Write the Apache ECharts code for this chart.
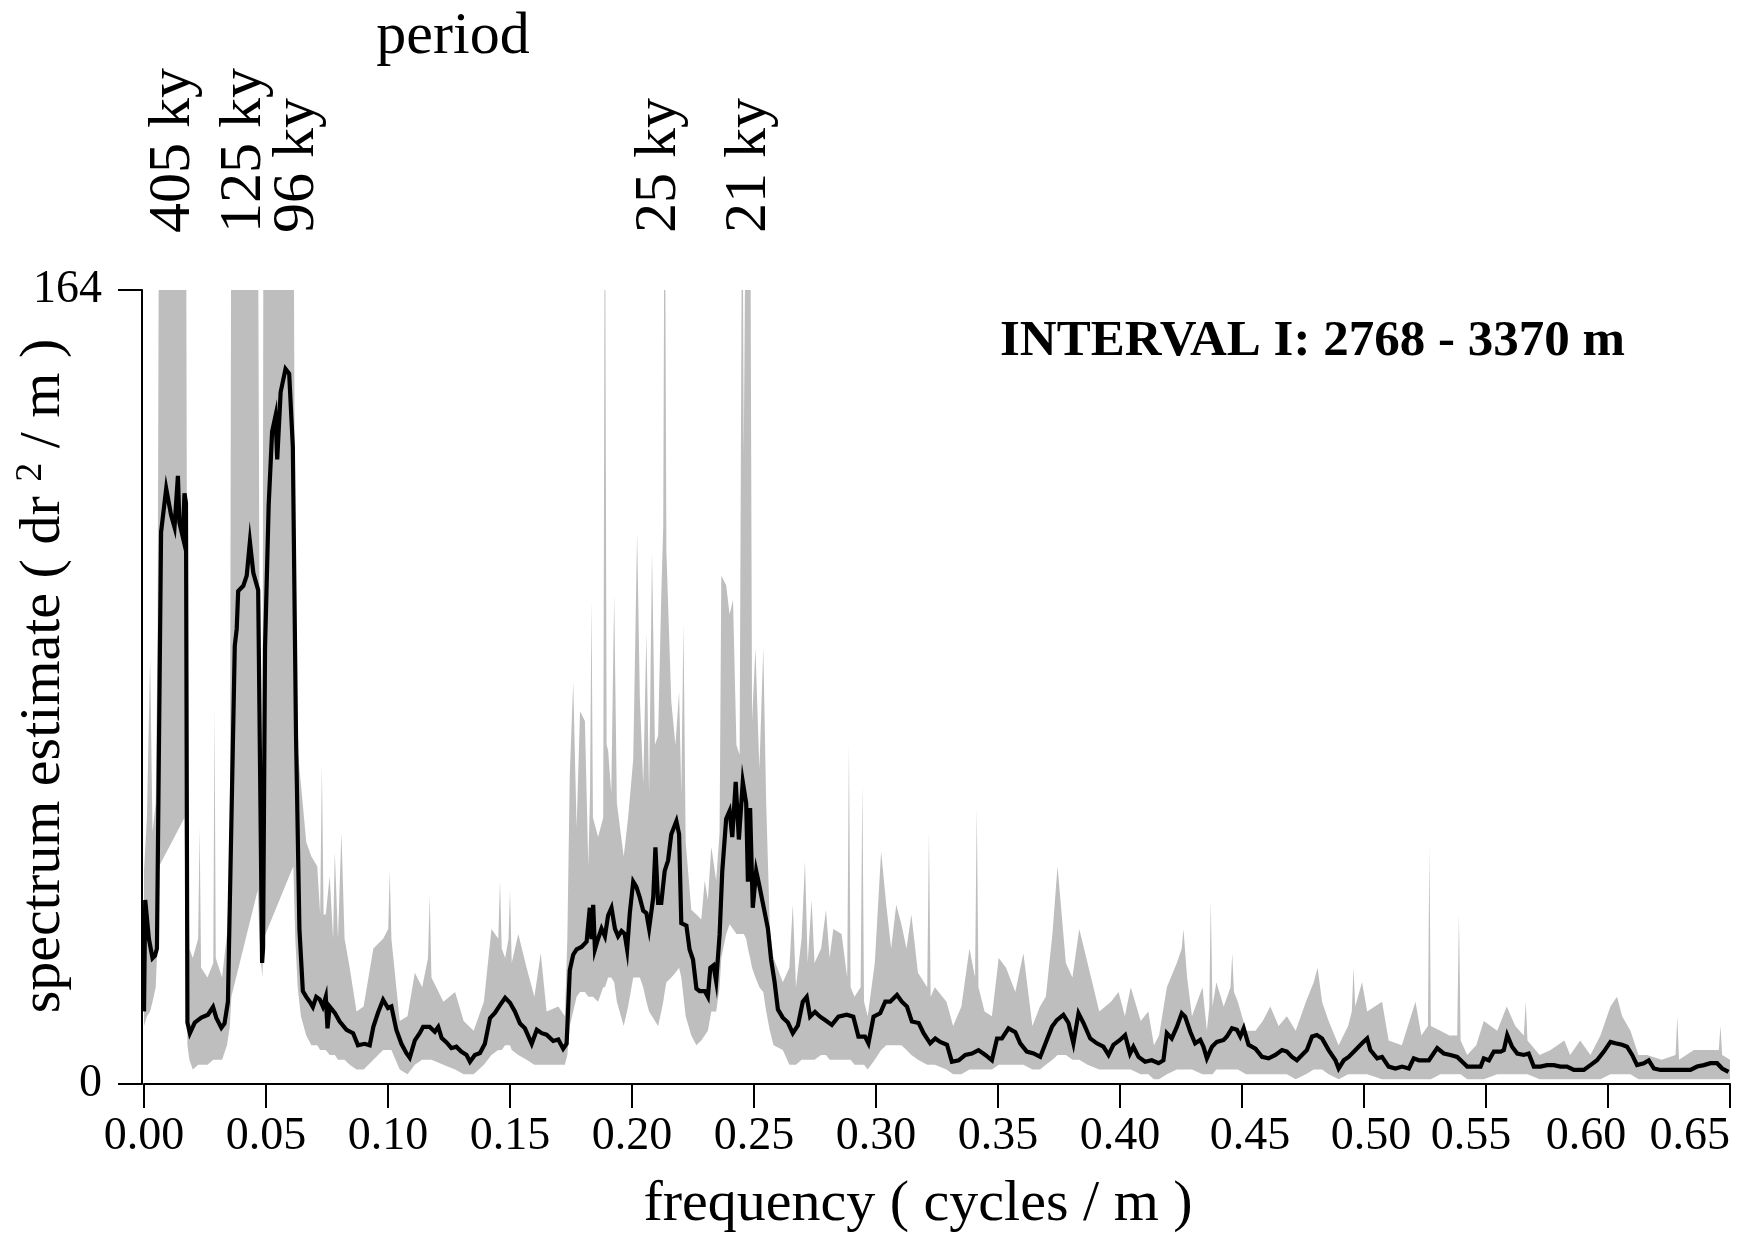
<!DOCTYPE html>
<html>
<head>
<meta charset="utf-8">
<script src="https://cdn.jsdelivr.net/npm/echarts/dist/echarts.min.js"></script>
<style>
html,body{margin:0;padding:0;background:#ffffff;}
#chart{width:1754px;height:1234px;}
</style>
</head>
<body>
<div id="chart"></div>
<script>
// ---------- DATA ----------
// Spectrum estimate (black line): frequency (cycles/m) and value (dr^2/m)
const specFreq = [
  0.0000,0.0005,0.0020,0.0035,0.0045,0.0053,0.0070,0.0091,0.0111,0.0125,
  0.0139,0.0145,0.0159,0.0166,0.0172,0.0178,0.0188,0.0208,0.0235,0.0262,
  0.0283,0.0296,0.0317,0.0330,0.0344,0.0372,0.0380,0.0386,0.0407,0.0421,
  0.0434,0.0448,0.0468,0.0484,0.0488,0.0496,0.0511,0.0525,0.0539,0.0546,
  0.0560,0.0580,0.0595,0.0610,0.0623,0.0637,0.0651,0.0665,0.0679,0.0692,
  0.0706,0.0720,0.0733,0.0745,0.0752,0.0761,0.0782,0.0802,0.0830,0.0857,
  0.0877,0.0904,0.0925,0.0940,0.0959,0.0980,0.1000,0.1014,0.1034,0.1055,
  0.1075,0.1089,0.1110,0.1130,0.1144,0.1171,0.1192,0.1206,0.1220,0.1240,
  0.1260,0.1280,0.1300,0.1322,0.1336,0.1356,0.1377,0.1397,0.1418,0.1438,
  0.1459,0.1480,0.1500,0.1520,0.1541,0.1561,0.1589,0.1610,0.1630,0.1650,
  0.1677,0.1698,0.1718,0.1732,0.1745,0.1759,0.1773,0.1793,0.1814,0.1827,
  0.1834,0.1841,0.1848,0.1861,0.1875,0.1889,0.1902,0.1916,0.1930,0.1943,
  0.1957,0.1970,0.1980,0.1991,0.2005,0.2018,0.2032,0.2046,0.2059,0.2070,
  0.2087,0.2096,0.2107,0.2120,0.2134,0.2148,0.2161,0.2182,0.2193,0.2202,
  0.2223,0.2236,0.2250,0.2264,0.2277,0.2298,0.2311,0.2321,0.2334,0.2345,
  0.2359,0.2370,0.2386,0.2400,0.2411,0.2425,0.2438,0.2454,0.2468,0.2475,
  0.2484,0.2495,0.2509,0.2523,0.2536,0.2557,0.2570,0.2584,0.2598,0.2618,
  0.2639,0.2659,0.2680,0.2700,0.2716,0.2730,0.2750,0.2771,0.2791,0.2819,
  0.2846,0.2880,0.2907,0.2928,0.2955,0.2969,0.2990,0.3017,0.3038,0.3058,
  0.3086,0.3106,0.3127,0.3147,0.3175,0.3195,0.3222,0.3243,0.3263,0.3291,
  0.3311,0.3339,0.3366,0.3393,0.3420,0.3448,0.3475,0.3496,0.3516,0.3543,
  0.3571,0.3591,0.3618,0.3646,0.3673,0.3700,0.3721,0.3741,0.3768,0.3789,
  0.3809,0.3830,0.3850,0.3878,0.3905,0.3932,0.3953,0.3973,0.4000,0.4021,
  0.4041,0.4055,0.4076,0.4103,0.4130,0.4158,0.4178,0.4192,0.4212,0.4233,
  0.4253,0.4267,0.4288,0.4308,0.4329,0.4342,0.4356,0.4377,0.4397,0.4425,
  0.4438,0.4459,0.4479,0.4493,0.4507,0.4527,0.4555,0.4582,0.4609,0.4637,
  0.4664,0.4684,0.4705,0.4725,0.4746,0.4766,0.4787,0.4807,0.4828,0.4855,
  0.4883,0.4896,0.4917,0.4937,0.4965,0.4992,0.5013,0.5026,0.5054,0.5074,
  0.5101,0.5129,0.5156,0.5184,0.5204,0.5225,0.5266,0.5300,0.5327,0.5354,
  0.5382,0.5409,0.5423,0.5450,0.5478,0.5491,0.5512,0.5532,0.5560,0.5573,
  0.5587,0.5607,0.5628,0.5655,0.5675,0.5696,0.5723,0.5750,0.5778,0.5805,
  0.5832,0.5860,0.5901,0.5928,0.5955,0.5983,0.6010,0.6030,0.6058,0.6078,
  0.6099,0.6119,0.6147,0.6167,0.6188,0.6215,0.6256,0.6297,0.6338,0.6365,
  0.6393,0.6420,0.6447,0.6468,0.6494
];
const specValue = [
  15,38,30,26,26.5,28,114,123,117.5,115,
  125.6,116,113,122,120,12.7,10.5,12.7,13.7,14.3,
  15.9,13.7,11.6,12.5,17,90.5,94,101.8,102.9,105,
  112,105.6,102,25,28,90,119.6,134.7,138,129,
  142.9,147.7,146.7,131.6,72,32,19.2,18,17,15.9,
  18,17.5,16,18,11.5,16,14.7,12.9,11.2,10.5,
  8,8.3,8,11.8,14.7,17.4,15.7,16,11.2,8.3,
  6.4,5.4,9,10.5,11.8,11.8,10.8,11.8,9.5,8.6,
  7.4,7.7,6.7,6,4.6,6,6.4,8.3,13.6,14.7,
  16.3,17.8,16.8,15,12.5,11.5,8.3,11.2,10.5,10.2,
  8.9,9.2,7.3,8.3,23.5,26.7,27.8,28.3,29.4,36.4,
  29.9,37,27.8,30,32.1,30.5,34.8,36.4,32.1,30.5,
  31.6,31,27.8,35.3,41.8,40.7,38.5,35.8,35.3,32.1,
  38.5,48.9,37.4,37.4,44,46.2,51.6,54.3,51.6,33.2,
  32.7,27.8,25.7,19.7,19.2,19.2,18,24,24.5,21.2,
  30.8,44,54.8,56.4,51,62.4,50.5,62.4,58,41.8,
  57,36.4,44,40.7,37.4,32.1,25.7,21.2,15.4,13.7,
  12.7,10.5,12.1,17,18,13.9,14.9,13.9,13.2,12.2,
  13.9,14.3,13.9,9.8,9.8,8.4,13.9,14.6,17,17,
  18.4,17,16,12.9,12.6,10.5,8.4,9.4,8.7,8.1,
  4.6,4.9,6,6.3,7,6,4.9,9.4,9.4,11.5,
  10.7,8.4,6.7,6.3,5.6,9.1,11.8,13.2,14.3,12.6,
  8.4,14.6,12.6,9.4,8.4,7.7,6,8.1,9.1,10.1,
  6.3,7.7,5.6,4.6,4.9,4.3,4.9,10.5,9.4,11.8,
  14.6,13.9,10.8,8.4,9.1,7.7,5.3,7.7,8.7,9.1,
  9.8,11.5,11.2,9.8,11.5,8.1,7.3,5.6,5.3,6,
  7,6.7,5.6,4.9,6,7,9.8,10.1,9.4,7,
  4.9,3.2,4.9,5.6,7,8.4,9.4,7,5.3,5.6,
  3.6,3.2,3.6,3.2,5.3,4.9,4.9,7.4,6.3,6,
  5.6,4.3,3.6,3.6,3.6,5.3,4.9,6.7,6.7,7,
  10.1,7.7,6.3,6,6.3,3.6,3.6,3.9,3.9,3.6,
  3.6,2.9,2.9,3.9,4.9,6.7,8.7,8.4,8.1,7.7,
  6,3.9,4.3,4.9,3.2,2.9,2.9,2.9,2.9,3.6,
  3.9,4.3,4.3,3.2,2.5
];

// Confidence band (grey): frequency, lower bound, upper bound (values >= 164 run off the top)
const bandFreq = [
  0.0000,0.0012,0.0025,0.0035,0.0048,0.0056,0.0062,0.0166,0.0172,0.0178,
  0.0186,0.0200,0.0222,0.0228,0.0234,0.0260,0.0284,0.0289,0.0294,0.0320,
  0.0340,0.0352,0.0358,0.0466,0.0474,0.0480,0.0485,0.0490,0.0612,0.0620,
  0.0630,0.0643,0.0665,0.0686,0.0710,0.0722,0.0729,0.0736,0.0745,
  0.0761,0.0775,0.0782,0.0795,0.0809,0.0822,0.0843,0.0871,0.0900,0.0940,
  0.0980,0.1001,0.1007,0.1014,0.1048,0.1080,0.1110,0.1140,0.1164,0.1171,
  0.1178,0.1227,0.1275,0.1310,0.1351,0.1393,0.1424,0.1452,0.1459,0.1466,
  0.1480,0.1494,0.1500,0.1507,0.1534,0.1568,0.1600,0.1626,0.1650,0.1698,
  0.1725,
  0.1735,0.1745,0.1759,0.1773,0.1787,0.1807,0.1821,0.1828,0.1834,0.1840,
  0.1861,0.1882,0.1889,0.1896,0.1902,0.1915,0.1927,0.1938,0.1966,0.1984,
  0.2005,0.2021,0.2032,0.2046,0.2059,0.2070,0.2082,0.2094,0.2107,0.2120,
  0.2128,0.2134,0.2141,0.2161,0.2178,0.2193,0.2202,0.2211,0.2220,0.2243,
  0.2264,0.2284,0.2298,0.2311,0.2325,0.2345,0.2359,0.2366,0.2386,0.2400,
  0.2414,0.2428,0.2441,0.2452,0.2458,0.2468,0.2475,0.2484,0.2492,0.2506,
  0.2522,0.2538,0.2550,0.2565,0.2580,0.2618,0.2645,0.2659,0.2672,0.2695,
  0.2709,0.2720,0.2736,0.2748,0.2775,0.2795,0.2810,0.2825,0.2859,0.2882,
  0.2889,0.2896,0.2912,0.2937,0.2944,0.2951,0.2966,0.2995,0.3021,0.3042,
  0.3062,0.3083,0.3104,0.3125,0.3145,0.3172,0.3210,0.3217,0.3224,0.3241,
  0.3289,0.3316,0.3350,0.3383,0.3406,0.3413,0.3420,0.3445,0.3475,0.3503,
  0.3533,0.3571,0.3604,0.3641,0.3672,0.3696,0.3723,0.3744,0.3778,0.3805,
  0.3833,0.3867,0.3915,0.3963,
  0.3994,0.4020,0.4044,0.4085,0.4116,0.4139,0.4160,0.4192,0.4233,0.4253,
  0.4260,0.4275,0.4295,0.4338,0.4356,0.4366,0.4372,0.4379,0.4395,0.4425,
  0.4453,0.4460,0.4467,0.4483,0.4517,0.4555,0.4585,0.4616,0.4650,0.4684,
  0.4720,0.4762,0.4794,0.4810,0.4828,0.4855,0.4896,0.4935,0.4950,0.4957,
  0.4964,0.4992,0.5013,0.5074,0.5101,0.5155,0.5211,0.5235,0.5262,0.5268,
  0.5274,
  0.5313,0.5350,0.5382,0.5389,0.5396,0.5423,0.5460,0.5491,0.5546,0.5585,
  0.5620,0.5655,0.5663,0.5670,0.5720,0.5765,0.5821,0.5845,0.5886,0.5928,
  0.5969,0.6010,0.6037,0.6058,0.6092,0.6125,0.6160,0.6220,0.6277,0.6284,
  0.6291,0.6352,0.6400,0.6454,0.6461,0.6468,0.6500
];
const bandLow = [
  12,14,15,17,20,30,45,55,30,8,
  5,3,4,4,4,4,5,5,5,5,
  8,12,18,40,30,25,22,30,45,30,
  20,14,10,8,8,7,7,7,7,
  6,6,6,5,5,5,4,3,3,5,
  7,7,7,7,3,2,4,5,5,5,
  5,4,3,2,2,4,6,7,7,7,
  8,8,8,7,6,5,4,4,4,4,
  4,
  6,12,15,18,19,19,18,18,18,18,
  17,20,20,21,22,22,21,17,12,16,
  22,22,22,20,17,15,14,13,12,15,
  17,19,21,22,23,24,22,18,14,10,
  8,9,10,11,15,15,20,26,31,33,
  32,31,31,31,31,30,28,26,24,22,
  20,19,15,11,8,7,4,4,4,5,
  5,5,5,5,6,6,5,5,5,5,
  5,5,4,4,4,4,3,5,7,8,
  8,8,8,7,6,5,4,4,4,4,
  3,2,2,3,3,3,3,3,3,4,
  4,4,4,3,3,4,5,6,6,5,
  5,4,3,3,
  3,3,3,2,2,1,1,2,3,3,
  3,3,3,2,2,2,2,2,3,3,
  3,3,3,3,2,2,2,2,2,2,
  1,2,3,3,3,2,1,2,2,2,
  2,2,2,1,1,1,1,1,1,1,
  1,
  2,2,2,2,2,1,1,1,2,2,
  2,2,2,2,1,1,1,1,1,1,
  1,2,2,2,2,1,1,1,1,1,
  1,1,1,1,1,1,1
];
const bandHigh = [
  44,55,88,52,58,95,200,200,200,60,
  28,26,30,53,24,22,25,78,26,22,
  31,45,200,200,90,45,40,200,200,95,
  69,62,50,47,45,35,66,35,35,
  43,30,48,30,52,30,24,15,16,28,
  30,32,44,30,13,14,23,20,26,39,
  22,17,19,13,11,17,32,30,42,28,
  26,30,40,25,31,24,18,27,15,16,
  14,
  30,64,83,53,77,75,45,60,100,55,
  51,55,200,70,69,60,101,58,47,55,
  67,114,80,62,93,60,110,70,72,101,
  115,200,110,79,70,81,60,95,50,36,
  35,34,42,38,49,42,52,105,103,97,
  100,70,68,200,130,200,200,200,75,90,
  65,90,58,32,26,21,24,37,20,30,
  46,25,38,25,28,36,26,32,31,22,
  70,20,18,20,62,17,14,25,48,37,
  28,37,33,28,35,23,20,52,18,20,
  17,12,16,28,22,57,20,15,14,26,
  24,19,27,12,16,18,31,45,25,22,
  32,25,15,17,
  19,14,20,13,15,8,10,20,25,28,
  32,22,14,20,11,16,38,16,21,16,
  20,27,19,17,11,11,13,16,12,14,
  11,17,21,24,17,13,8,12,15,24,
  16,21,15,17,9,8,17,10,12,49,
  12,
  11,10,10,35,9,6,8,13,11,16,
  12,10,17,9,6,7,9,6,9,6,
  10,16,18,14,11,6,6,5,6,14,
  5,7,7,7,12,6,5
];

// Period annotations and the frequency they sit above
const periodLabels = ['405 ky', '125 ky', '96 ky', '25 ky', '21 ky'];
const periodFreq   = [0.0120, 0.0410, 0.0630, 0.2110, 0.2480];

// Axis ranges / ticks
const xMin = 0, xMax = 0.65, xStep = 0.05;
const yMin = 0, yMax = 164;

// ---------- CHART ----------
const FONT = '"Liberation Serif", "Times New Roman", Times, serif';
const chart = echarts.init(document.getElementById('chart'), null, {renderer: 'canvas'});

const specData = specFreq.map((f, i) => [f, specValue[i]]);

function renderBand(params, api) {
  const pts = [];
  for (let i = 0; i < bandFreq.length; i++) pts.push(api.coord([bandFreq[i], bandHigh[i]]));
  for (let i = bandFreq.length - 1; i >= 0; i--) pts.push(api.coord([bandFreq[i], bandLow[i]]));
  const cs = params.coordSys;
  return {
    type: 'polygon',
    shape: {points: pts},
    style: {fill: '#bebebe', stroke: null},
    clipPath: {type: 'rect', shape: {x: cs.x, y: cs.y, width: cs.width, height: cs.height}},
    silent: true
  };
}

// small horizontal nudges of individual tick labels, as in the original figure
const tickRich = {
  r8:  {fontSize: 46, fontFamily: FONT, color: '#000', padding: [0, 0, 0, 16]},
  r7:  {fontSize: 46, fontFamily: FONT, color: '#000', padding: [0, 0, 0, 14]},
  l15: {fontSize: 46, fontFamily: FONT, color: '#000', padding: [0, 30, 0, 0]},
  l22: {fontSize: 46, fontFamily: FONT, color: '#000', padding: [0, 44, 0, 0]}
};
const tickNudge = {'0.45': 'r8', '0.50': 'r7', '0.55': 'l15', '0.60': 'l22'};

const option = {
  animation: false,
  backgroundColor: '#ffffff',
  grid: {left: 144, right: 24, top: 290, bottom: 150, containLabel: false, outerBoundsMode: 'none'},
  xAxis: {
    type: 'value', min: xMin, max: xMax, interval: xStep,
    axisLine: {show: true, onZero: false, lineStyle: {color: '#000', width: 2}},
    axisTick: {show: true, length: 24, lineStyle: {color: '#000', width: 2}},
    axisLabel: {fontSize: 46, fontFamily: FONT, color: '#000', margin: 30,
                alignMaxLabel: 'right', rich: tickRich,
                formatter: v => {
                  const s = v.toFixed(2);
                  return tickNudge[s] ? '{' + tickNudge[s] + '|' + s + '}' : s;
                }},
    splitLine: {show: false},
    name: 'frequency ( cycles / m )', nameLocation: 'middle', nameGap: 92,
    nameMoveOverlap: false,
    nameTextStyle: {fontSize: 58, fontFamily: FONT, color: '#000', padding: [0, 38, 0, 0]}
  },
  yAxis: {
    type: 'value', min: yMin, max: yMax, interval: yMax,
    offset: 2,
    axisLine: {show: true, onZero: false, lineStyle: {color: '#000', width: 2}},
    axisTick: {show: true, length: 24, lineStyle: {color: '#000', width: 2}},
    axisLabel: {fontSize: 46, fontFamily: FONT, color: '#000', margin: 40},
    splitLine: {show: false},
    name: 'spectrum estimate ( dr {sup|2} / m )', nameLocation: 'middle', nameGap: 66,
    nameRotate: 90, nameMoveOverlap: false,
    nameTextStyle: {
      fontSize: 58, fontFamily: FONT, color: '#000', padding: [0, 0, 0, 22],
      rich: {sup: {fontSize: 38, fontFamily: FONT, color: '#000', padding: [0, 0, 26, 0]}}
    }
  },
  series: [
    {
      name: 'band', type: 'custom', renderItem: renderBand,
      data: [[xMin, yMin]], encode: {x: 0, y: 1}, silent: true, z: 1
    },
    {
      name: 'spectrum', type: 'line', data: specData,
      symbol: 'none', lineStyle: {color: '#000', width: 4.2, join: 'miter'}, z: 5
    }
  ],
  graphic: [
    {type: 'text', x: 453, y: 37,
     style: {text: 'period', fontSize: 60, fontFamily: FONT, fill: '#000', align: 'center', verticalAlign: 'middle'}},
    {type: 'text', x: 1000, y: 342,
     style: {text: 'INTERVAL I: 2768 - 3370 m', fontSize: 51, fontWeight: 'bold', fontFamily: FONT, fill: '#000', align: 'left', verticalAlign: 'middle'}}
  ]
};
chart.setOption(option);

// period labels placed through the x scale
const periodGraphics = periodFreq.map((f, i) => {
  const p = chart.convertToPixel({gridIndex: 0}, [f, 0]);
  return {
    type: 'text', x: p[0], y: 233, rotation: Math.PI / 2,
    style: {text: periodLabels[i], fontSize: 60, fontFamily: FONT, fill: '#000', align: 'left', verticalAlign: 'middle'}
  };
});
chart.setOption({graphic: option.graphic.concat(periodGraphics)});
</script>
</body>
</html>
